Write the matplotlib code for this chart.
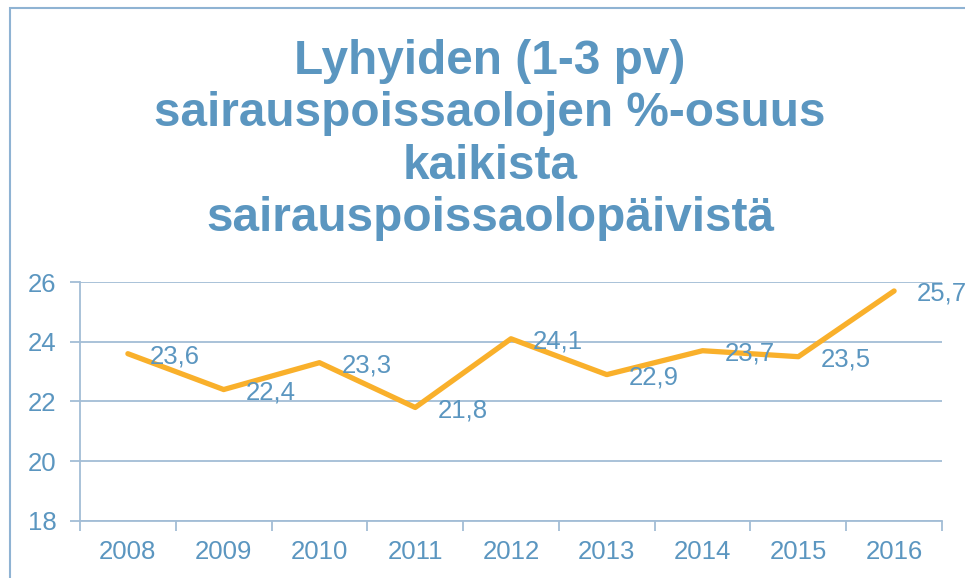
import numpy as np
import matplotlib.pyplot as plt
from matplotlib.patches import Rectangle

# Data
years = ['2008', '2009', '2010', '2011', '2012', '2013', '2014', '2015', '2016']
share = [23.6, 22.4, 23.3, 21.8, 24.1, 22.9, 23.7, 23.5, 25.7]
yticks = [18, 20, 22, 24, 26]

text_col = '#5b96c0'
grid_col = '#a3bdd6'
line_col = '#f9b02b'

plt.rcParams['font.family'] = ['Liberation Sans', 'DejaVu Sans']

fig = plt.figure(figsize=(9.65, 5.78), dpi=100)
fig.patches.append(Rectangle((10/965, -0.1), 1.2, 1 - 8/578 + 0.1, transform=fig.transFigure,
                             fill=False, edgecolor='#8fb3d3', lw=1.5))

ax = fig.add_axes([80/965, 1 - 521/578, 862/965, (521 - 282)/578])
x = np.arange(len(years))
ax.plot(x, share, color=line_col, lw=3.8, solid_capstyle='round', zorder=3)
for xi, v in zip(x, share):
    ax.annotate(f'{v:.1f}'.replace('.', ','), (xi, v), xytext=(16, -2), textcoords='offset points',
                ha='left', va='center', fontsize=18.5, color=text_col, zorder=4)

ax.set_xlim(-0.5, len(years) - 0.5)
ax.set_ylim(18, 26)
ax.set_yticks(yticks)
ax.set_yticklabels([str(t) for t in yticks])
ax.yaxis.grid(True, color=grid_col, lw=1.3)
ax.set_axisbelow(True)

ax.set_xticks(np.arange(-0.5, len(years)), minor=False)
ax.set_xticklabels([])
ax.set_xticks(x, minor=True)
ax.set_xticklabels(years, minor=True)
ax.tick_params(axis='x', which='major', length=7, width=1.3, color=grid_col, direction='out')
ax.tick_params(axis='x', which='minor', length=0, pad=14, labelsize=18.5, labelcolor=text_col)
ax.tick_params(axis='y', length=7, width=1.3, color=grid_col, pad=10, labelsize=18.5, labelcolor=text_col)

for s in ['top', 'right']:
    ax.spines[s].set_visible(False)
for s in ['left', 'bottom']:
    ax.spines[s].set_color(grid_col)
    ax.spines[s].set_linewidth(1.3)

fig.text(490/965, 1 - 140/578, 'Lyhyiden (1-3 pv)\nsairauspoissaolojen %-osuus\nkaikista\nsairauspoissaolopäivistä',
         ha='center', va='center', fontsize=34.4, fontweight='bold', color=text_col, linespacing=1.21)

fig.savefig('out.png', dpi=100)
